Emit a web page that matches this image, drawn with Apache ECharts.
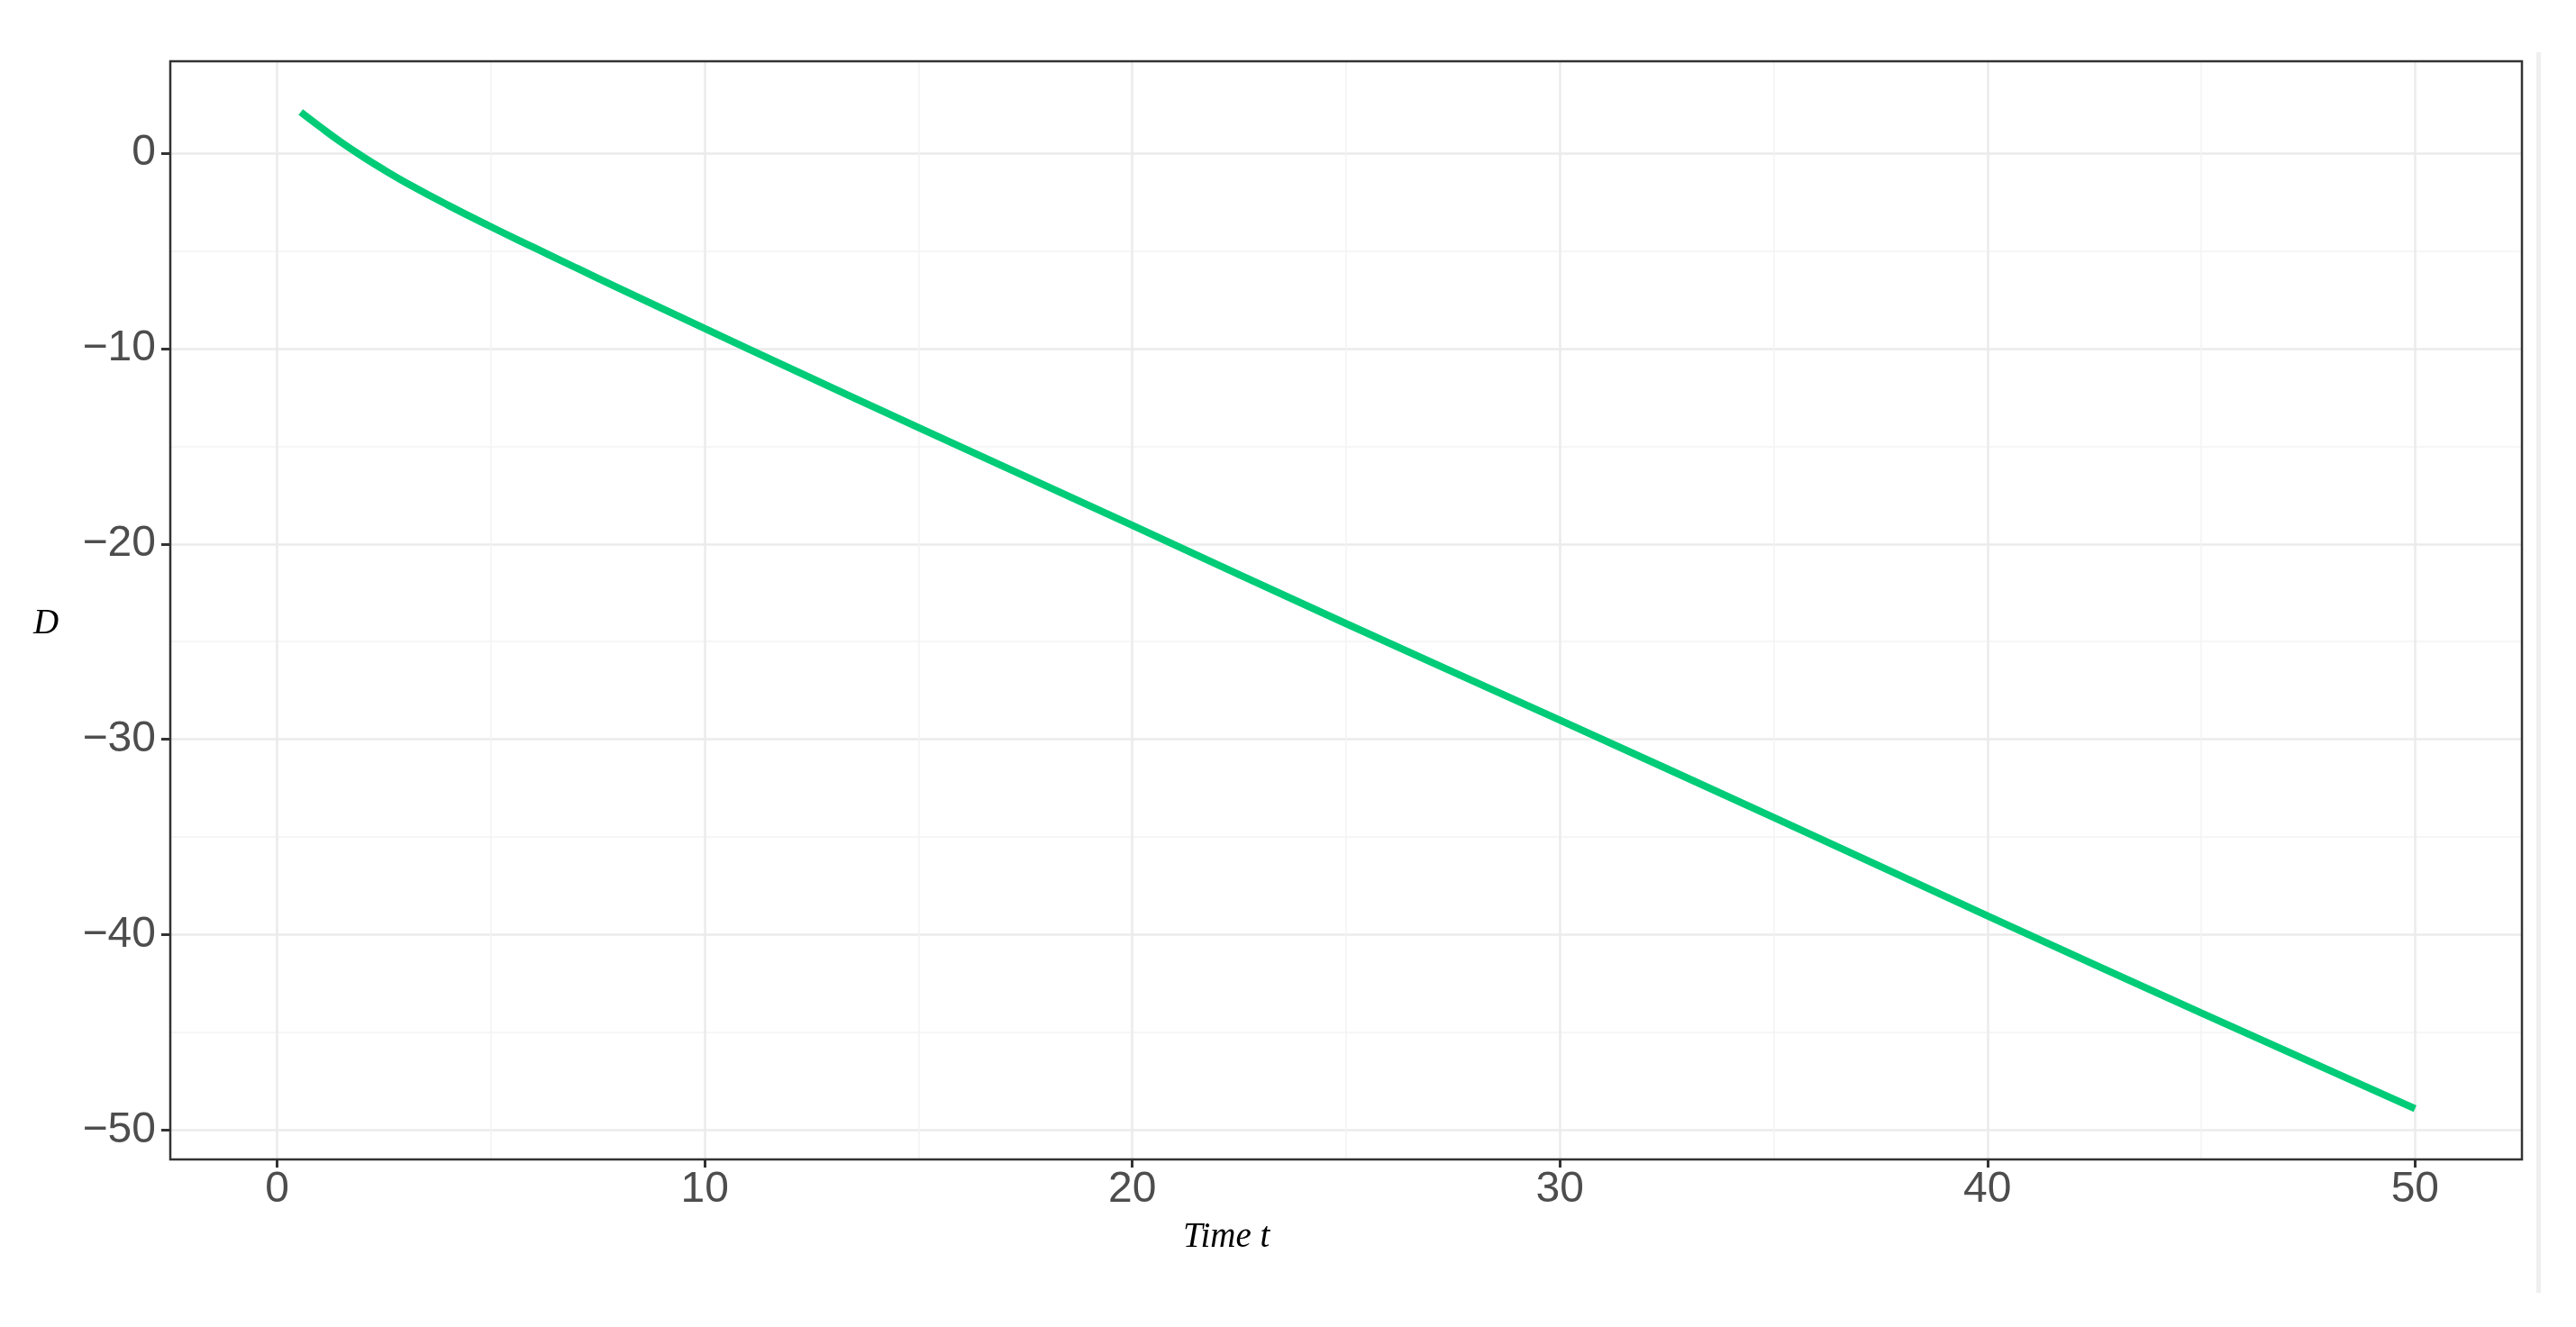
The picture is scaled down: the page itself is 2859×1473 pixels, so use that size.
<!DOCTYPE html>
<html>
<head>
<meta charset="utf-8">
<script src="https://cdn.jsdelivr.net/npm/echarts@6/dist/echarts.min.js"></script>
<style>
html,body{margin:0;padding:0;background:#fff;}
#chart{width:2859px;height:1473px;}
</style>
</head>
<body>
<div id="chart"></div>
<script>
// Data
const timeValues = [0.55, 1, 1.5, 2, 2.5, 3, 4, 5, 6, 7, 8, 10, 12, 15, 20, 25, 30, 35, 40, 45, 50];
const dValues    = [2.1, 1.35, 0.55, -0.18, -0.86, -1.5, -2.67, -3.77, -4.83, -5.88, -6.92, -8.98, -11.02, -14.05, -19.05, -24.08, -29.02, -34.0, -39.03, -44.0, -48.9];
const xTicks = [0, 10, 20, 30, 40, 50];
const yTicks = [-50, -40, -30, -20, -10, 0];
const xTitle = 'Time t';
const yTitle = 'D';

const seriesData = timeValues.map((t, i) => [t, dValues[i]]);

const chart = echarts.init(document.getElementById('chart'), null, {renderer: 'canvas'});
const labelFont = {color: '#4d4d4d', fontSize: 48, fontFamily: 'Liberation Sans, Arial, sans-serif'};
const titleFont = {color: '#000', fontSize: 39, fontStyle: 'italic', fontWeight: 'normal', fontFamily: 'Liberation Serif, Times New Roman, serif'};

chart.setOption({
  animation: false,
  backgroundColor: '#ffffff',
  title: [
    {text: xTitle, left: 1313, top: 1354, padding: 0, textStyle: titleFont},
    {text: yTitle, left: 37, top: 673, padding: 0, textStyle: titleFont}
  ],
  graphic: [
    {type: 'rect', left: 2815, top: 58, shape: {width: 5, height: 1377}, style: {fill: '#efefef'}, silent: true}
  ],
  grid: {
    left: 189, top: 68, width: 2610, height: 1219,
    show: true, z: 5, backgroundColor: 'transparent',
    borderColor: '#333333', borderWidth: 2.5
  },
  xAxis: {
    type: 'value', min: -2.5, max: 52.5,
    axisLine: {show: false, onZero: false},
    axisTick: {show: true, customValues: xTicks, length: 9, lineStyle: {color: '#333333', width: 3}},
    axisLabel: {customValues: xTicks, margin: 10, ...labelFont},
    splitLine: {show: true, lineStyle: {color: '#ebebeb', width: 2.5}},
    minorTick: {show: true, splitNumber: 2, length: 0, lineStyle: {color: 'transparent'}},
    minorSplitLine: {show: true, lineStyle: {color: '#f3f3f3', width: 1.5}}
  },
  yAxis: {
    type: 'value', min: -51.5, max: 4.7,
    axisLine: {show: false, onZero: false},
    axisTick: {show: true, customValues: yTicks, length: 10, lineStyle: {color: '#333333', width: 3}},
    axisLabel: {customValues: yTicks, margin: 16, ...labelFont,
      formatter: v => (v < 0 ? '\u2212' + Math.abs(v) : String(v))},
    splitLine: {show: true, lineStyle: {color: '#ebebeb', width: 2.5}},
    minorTick: {show: true, splitNumber: 2, length: 0, lineStyle: {color: 'transparent'}},
    minorSplitLine: {show: true, lineStyle: {color: '#f3f3f3', width: 1.5}}
  },
  series: [{
    type: 'line',
    data: seriesData,
    smooth: true,
    showSymbol: false,
    lineStyle: {color: '#00cc78', width: 8, cap: 'butt'},
    z: 3
  }]
});
</script>
</body>
</html>
